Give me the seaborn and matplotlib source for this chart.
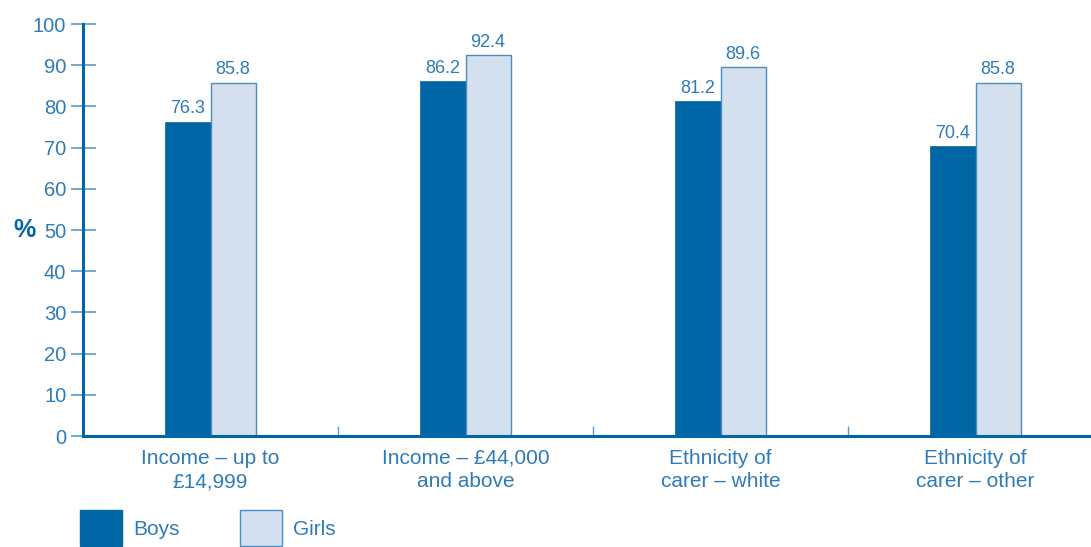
import matplotlib
matplotlib.use("Agg")
import matplotlib.pyplot as plt
from matplotlib.patches import Patch
import pandas as pd
import seaborn as sns

# data
categories = ["Income \u2013 up to\n\u00a314,999", "Income \u2013 \u00a344,000\nand above",
              "Ethnicity of\ncarer \u2013 white", "Ethnicity of\ncarer \u2013 other"]
boys = [76.3, 86.2, 81.2, 70.4]
girls = [85.8, 92.4, 89.6, 85.8]
yticks = list(range(0, 101, 10))

dark_blue = '#0066a6'
light_fill = '#d5e0ee'
edge_blue = '#4a8cc4'
text_blue = '#2f7bb9'
tick_blue = '#5b9bd0'

df = pd.DataFrame({
    'category': categories * 2,
    'value': boys + girls,
    'group': ['Boys'] * len(boys) + ['Girls'] * len(girls),
})

sns.set_style('white')
plt.rcParams['font.family'] = ['Liberation Sans', 'DejaVu Sans']

fig = plt.figure(figsize=(10.91, 5.47), dpi=100)
ax = fig.add_axes([83 / 1091, 111 / 547, 1020 / 1091, 412 / 547])

sns.barplot(data=df, x='category', y='value', hue='group', order=categories,
            hue_order=['Boys', 'Girls'], palette={'Boys': dark_blue, 'Girls': light_fill},
            width=0.353, gap=0, legend=False, ax=ax, errorbar=None, saturation=1)

# girls bars get a thin outline, boys none
for bar, grp in zip(ax.patches, ['Boys'] * 4 + ['Girls'] * 4):
    if grp == 'Girls':
        bar.set_edgecolor(edge_blue)
        bar.set_linewidth(1.0)
    else:
        bar.set_edgecolor(dark_blue)
        bar.set_linewidth(0.5)

for container in ax.containers:
    ax.bar_label(container, fmt='%.1f', padding=3, color=text_blue, fontsize=13)

ax.set_ylim(0, 100)
ax.set_xlim(-0.5, 3.5)
ax.set_yticks(yticks)
ax.set_xlabel('')
ax.set_ylabel('')

for side in ['top', 'right']:
    ax.spines[side].set_visible(False)
for side in ['left', 'bottom']:
    ax.spines[side].set_color(dark_blue)
    ax.spines[side].set_linewidth(2.2)

ax.tick_params(axis='y', direction='inout', length=18, width=1.2, color=tick_blue,
               labelcolor=text_blue, labelsize=14.5, pad=3, left=True)
ax.tick_params(axis='x', length=0, labelcolor=text_blue, labelsize=15, pad=9)
for lbl in ax.get_xticklabels():
    lbl.set_linespacing(1.3)

# small separators between the categories
ax.set_xticks([0.5, 1.5, 2.5], minor=True)
ax.tick_params(axis='x', which='minor', direction='in', length=7, width=1.0,
               color=tick_blue, bottom=True)

fig.text(25 / 1091, 1 - 230 / 547, '%', color=dark_blue, fontsize=18,
         fontweight='bold', ha='center', va='center')

handles = [Patch(facecolor=dark_blue, edgecolor=dark_blue, label='Boys'),
           Patch(facecolor=light_fill, edgecolor=edge_blue, label='Girls')]
leg = fig.legend(handles=handles, loc='upper left', bbox_to_anchor=(80 / 1091, 1 - 510 / 547),
                 ncol=2, frameon=False, fontsize=15, handlelength=2.0, handleheight=2.3,
                 handletextpad=0.55, columnspacing=2.9, borderpad=0, borderaxespad=0)
for t in leg.get_texts():
    t.set_color(text_blue)

fig.savefig('out.png', dpi=100)
